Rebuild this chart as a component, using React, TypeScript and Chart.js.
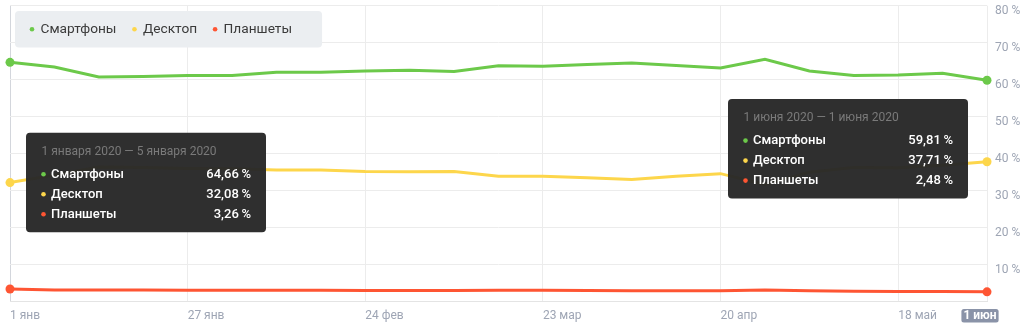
import React, { useEffect, useRef } from 'react';
import { Chart, registerables } from 'chart.js';

Chart.register(...registerables);

const categories = [
  '1 янв', '6 янв', '13 янв', '20 янв', '27 янв', '3 фев', '10 фев', '17 фев',
  '24 фев', '2 мар', '9 мар', '16 мар', '23 мар', '30 мар', '6 апр', '13 апр',
  '20 апр', '27 апр', '4 май', '11 май', '18 май', '25 май', '1 июн',
];
const tickIndices = [0, 4, 8, 12, 16, 20, 22];

const smartphones = [
  64.66, 63.4, 60.7, 60.8, 61.1, 61.1, 62.0, 62.0, 62.3, 62.5, 62.2, 63.7,
  63.6, 64.1, 64.5, 63.8, 63.1, 65.5, 62.3, 61.1, 61.2, 61.7, 59.81,
];
const desktop = [
  32.08, 34.1, 36.3, 36.2, 35.9, 35.8, 35.5, 35.5, 35.1, 35.0, 35.1, 33.8,
  33.8, 33.4, 32.9, 33.8, 34.5, 31.6, 34.9, 36.2, 36.1, 36.8, 37.71,
];
const tablets = [
  3.26, 3.0, 2.95, 2.95, 2.9, 2.9, 2.9, 2.9, 2.85, 2.85, 2.85, 2.9,
  2.9, 2.85, 2.8, 2.8, 2.75, 3.0, 2.75, 2.65, 2.6, 2.6, 2.48,
];

const seriesNames = ['Смартфоны', 'Десктоп', 'Планшеты'];
const seriesColors = ['#6cc94a', '#fdd64b', '#fe5533'];
const seriesData = [smartphones, desktop, tablets];

const tooltipIndices = [0, 22];
const tooltipTitles = ['1 января 2020 — 5 января 2020', '1 июня 2020 — 1 июня 2020'];

const FONT = 'Roboto, "Noto Sans", sans-serif';
const TICK_COLOR = '#9ea5b4';

function rr(ctx: CanvasRenderingContext2D, x: number, y: number, w: number, h: number, r: number) {
  ctx.beginPath();
  ctx.moveTo(x + r, y);
  ctx.lineTo(x + w - r, y);
  ctx.quadraticCurveTo(x + w, y, x + w, y + r);
  ctx.lineTo(x + w, y + h - r);
  ctx.quadraticCurveTo(x + w, y + h, x + w - r, y + h);
  ctx.lineTo(x + r, y + h);
  ctx.quadraticCurveTo(x, y + h, x, y + h - r);
  ctx.lineTo(x, y + r);
  ctx.quadraticCurveTo(x, y, x + r, y);
  ctx.closePath();
}

const fmt = (v: number) => v.toFixed(2).replace('.', ',') + '\u2009%';

const overlayPlugin = {
  id: 'overlay',
  afterDraw(chart: any) {
    const ctx: CanvasRenderingContext2D = chart.ctx;
    const area = chart.chartArea;
    const xs = chart.scales.x;
    ctx.save();

    // Legend
    ctx.font = `13.7px ${FONT}`;
    ctx.textBaseline = 'middle';
    const lx = 15;
    const ly = 11;
    let cx = lx + 17;
    const items: { dot: number; text: number }[] = [];
    seriesNames.forEach((n) => {
      items.push({ dot: cx, text: cx + 8.5 });
      cx = cx + 8.5 + ctx.measureText(n).width + 18;
    });
    const legendW = cx - 18 + 30 - lx;
    ctx.fillStyle = '#ebeef1';
    rr(ctx, lx, ly, legendW, 36.5, 4);
    ctx.fill();
    seriesNames.forEach((n, i) => {
      ctx.fillStyle = seriesColors[i];
      ctx.beginPath();
      ctx.arc(items[i].dot, ly + 18.3, 2.3, 0, Math.PI * 2);
      ctx.fill();
      ctx.fillStyle = '#3a3a3a';
      ctx.textAlign = 'left';
      ctx.fillText(n, items[i].text, ly + 18.5);
    });

    // Tooltips
    tooltipIndices.forEach((idx, k) => {
      const px = xs.getPixelForValue(idx);
      const w = 240;
      const h = 99.5;
      const left = k === 0 ? px + 16 : px - 19 - w;
      const top = k === 0 ? area.top + 127 : area.top + 93.3;
      ctx.fillStyle = 'rgba(40,40,40,0.97)';
      rr(ctx, left, top, w, h, 4);
      ctx.fill();
      ctx.textAlign = 'left';
      ctx.textBaseline = 'middle';
      ctx.font = `12px ${FONT}`;
      ctx.fillStyle = '#7a7a7a';
      ctx.fillText(tooltipTitles[k], left + 15.5, top + 19);
      seriesNames.forEach((n, i) => {
        const ry = top + 41.6 + i * 20;
        ctx.fillStyle = seriesColors[i];
        ctx.beginPath();
        ctx.arc(left + 17.5, ry, 2.3, 0, Math.PI * 2);
        ctx.fill();
        ctx.fillStyle = '#ffffff';
        ctx.font = `500 13px ${FONT}`;
        ctx.textAlign = 'left';
        ctx.fillText(n, left + 25, ry);
        ctx.textAlign = 'right';
        ctx.fillText(fmt(seriesData[i][idx]), left + w - 15, ry);
      });
    });

    // Highlighted last x label
    const lastIdx = categories.length - 1;
    const bx = xs.getPixelForValue(lastIdx) - 7;
    const by = area.bottom + 14.7;
    ctx.font = `bold 12px ${FONT}`;
    const tw = ctx.measureText(categories[lastIdx]).width;
    const bw = tw + 4;
    ctx.fillStyle = '#8a93a8';
    rr(ctx, bx - bw / 2, by - 6.8, bw, 13.6, 2.5);
    ctx.fill();
    ctx.fillStyle = '#ffffff';
    ctx.textAlign = 'center';
    ctx.textBaseline = 'middle';
    ctx.fillText(categories[lastIdx], bx, by + 0.5);

    ctx.restore();
  },
};

export default function App() {
  const ref = useRef<HTMLCanvasElement | null>(null);

  useEffect(() => {
    document.body.style.margin = '0';
    if (!ref.current) return;
    const last = categories.length - 1;
    const chart = new Chart(ref.current, {
      type: 'line',
      data: {
        labels: categories,
        datasets: seriesData.map((d, i) => ({
          label: seriesNames[i],
          data: d,
          borderColor: seriesColors[i],
          backgroundColor: seriesColors[i],
          borderWidth: 3,
          tension: 0,
          fill: false,
          pointRadius: (c: any) => (c.dataIndex === 0 || c.dataIndex === last ? 4.5 : 0),
          pointHoverRadius: (c: any) => (c.dataIndex === 0 || c.dataIndex === last ? 4.5 : 0),
          pointBorderWidth: 0,
          clip: false as any,
        })),
      },
      options: {
        animation: false,
        responsive: true,
        maintainAspectRatio: false,
        layout: { padding: { left: 10, top: 5.7, right: 0, bottom: 0 } },
        plugins: {
          legend: { display: false },
          tooltip: { enabled: false },
        },
        events: [],
        scales: {
          x: {
            type: 'category',
            offset: false,
            grid: {
              drawTicks: false,
              lineWidth: 1,
              color: (c: any) =>
                tickIndices.includes(c.index)
                  ? c.index === 0
                    ? '#d3d6dc'
                    : '#ececec'
                  : 'rgba(0,0,0,0)',
            },
            border: { color: '#e4e4e4' },
            ticks: {
              autoSkip: false,
              maxRotation: 0,
              minRotation: 0,
              align: 'start',
              padding: 8,
              color: TICK_COLOR,
              font: { family: FONT, size: 12 },
              callback: (_v: any, i: number) =>
                tickIndices.includes(i) && i !== last ? categories[i] : '',
            },
            afterFit: (s: any) => {
              s.height = 28;
              s.paddingLeft = 0;
              s.paddingRight = 0;
            },
          },
          y: {
            position: 'right',
            min: 0,
            max: 80,
            grid: { color: '#ececec', drawTicks: false },
            border: { display: false },
            ticks: {
              stepSize: 10,
              padding: 8,
              labelOffset: 5.5,
              color: TICK_COLOR,
              font: { family: FONT, size: 12 },
              callback: (v: any) => (v === 0 ? '' : `${v} %`),
            },
            afterFit: (s: any) => {
              s.width = 39;
              s.paddingTop = 0;
              s.paddingBottom = 0;
            },
          },
        },
      },
      plugins: [overlayPlugin],
    });
    return () => chart.destroy();
  }, []);

  return (
    <div style={{ position: 'relative', width: '1026px', height: '329px' }}>
      <canvas ref={ref} />
    </div>
  );
}
